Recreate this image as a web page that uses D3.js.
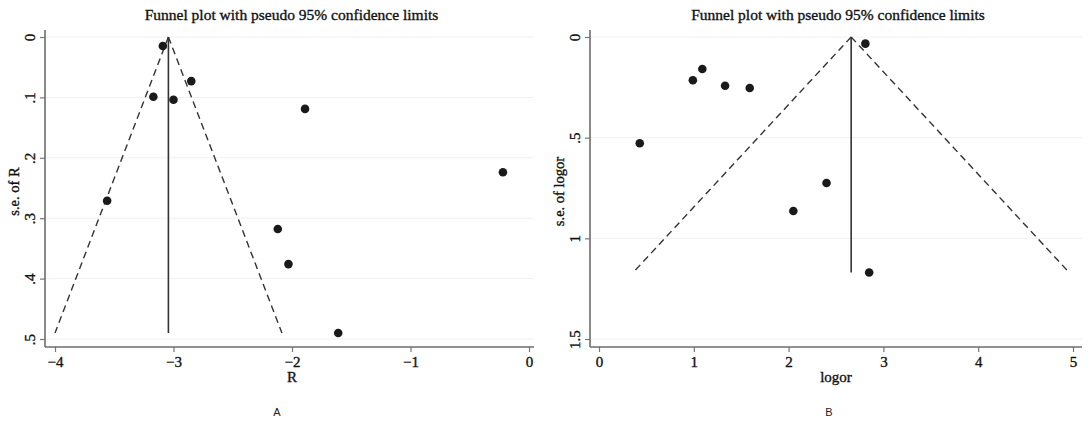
<!DOCTYPE html>
<html>
<head>
<meta charset="utf-8">
<script src="https://cdn.jsdelivr.net/npm/d3@7"></script>
<style>
  body { margin: 0; background: #fff; }
  svg { display: block; }
</style>
</head>
<body>
<svg id="chart" width="1090" height="421"></svg>
<script>
// Panel A: R vs s.e. of R
const rA = [-3.09, -3.17, -3.00, -2.85, -1.89, -0.22, -3.56, -2.12, -2.03, -1.61];
const seA = [0.015, 0.099, 0.104, 0.073, 0.119, 0.224, 0.271, 0.318, 0.376, 0.49];
const pooledA = -3.043;
const maxSeA = 0.49;
const limitsA = [-4.0, -2.085];
const xTicksA = [-4, -3, -2, -1, 0];
const xLabelsA = ["\u22124", "\u22123", "\u22122", "\u22121", "0"];
const yTicksA = [0, 0.1, 0.2, 0.3, 0.4, 0.5];
const yLabelsA = ["0", ".1", ".2", ".3", ".4", ".5"];

// Panel B: logor vs s.e. of logor
const logorB = [2.81, 1.09, 0.99, 1.33, 1.59, 0.43, 2.40, 2.05, 2.85];
const seB = [0.033, 0.159, 0.215, 0.242, 0.253, 0.528, 0.725, 0.864, 1.17];
const pooledB = 2.66;
const maxSeB = 1.17;
const limitsB = [0.36, 4.96];
const xTicksB = [0, 1, 2, 3, 4, 5];
const xLabelsB = ["0", "1", "2", "3", "4", "5"];
const yTicksB = [0, 0.5, 1, 1.5];
const yLabelsB = ["0", ".5", "1", "1.5"];

const title = "Funnel plot with pseudo 95% confidence limits";
const serif = "'Liberation Serif', 'Times New Roman', serif";

const svg = d3.select("#chart");

// thicken serif text a little, the scan looks heavy
function ink(sel, size) {
  sel.style("font-family", serif)
    .style("font-size", size)
    .attr("fill", "#111")
    .attr("stroke", "#111")
    .attr("stroke-width", 0.35);
}

function drawPanel(p) {
  const g = svg.append("g");

  const x = d3.scaleLinear().domain(p.xDomain).range(p.xRange);
  const y = d3.scaleLinear().domain(p.yDomain).range(p.yRange);

  // faint horizontal grid
  g.selectAll(".grid")
    .data(p.yTicks)
    .join("line")
      .attr("x1", p.left + 1)
      .attr("x2", p.right)
      .attr("y1", d => y(d))
      .attr("y2", d => y(d))
      .attr("stroke", "#f0f0f0")
      .attr("stroke-width", 1);

  // axes
  const xAxis = d3.axisBottom(x)
    .tickValues(p.xTicks)
    .tickFormat((d, i) => p.xLabels[i])
    .tickSizeInner(5)
    .tickSizeOuter(0)
    .tickPadding(4);

  const gx = g.append("g")
    .attr("transform", `translate(0,${p.bottom})`)
    .call(xAxis);
  gx.select(".domain").remove();
  gx.selectAll(".tick line").attr("stroke", "#777").attr("stroke-width", 1.2);
  gx.selectAll(".tick text").call(ink, "15px");

  const yAxis = d3.axisLeft(y)
    .tickValues(p.yTicks)
    .tickFormat((d, i) => p.yLabels[i])
    .tickSizeInner(5)
    .tickSizeOuter(0);

  const gy = g.append("g")
    .attr("transform", `translate(${p.left},0)`)
    .call(yAxis);
  gy.select(".domain").remove();
  gy.selectAll(".tick line").attr("stroke", "#777").attr("stroke-width", 1.2);
  gy.selectAll(".tick text")
    .attr("x", 0)
    .attr("dy", 0)
    .attr("transform", "translate(-10,0) rotate(-90)")
    .attr("text-anchor", "middle")
    .call(ink, "15px");

  g.append("line")
    .attr("x1", p.left).attr("x2", p.right)
    .attr("y1", p.bottom).attr("y2", p.bottom)
    .attr("stroke", "#6d6d6d").attr("stroke-width", 1.6);
  g.append("line")
    .attr("x1", p.left).attr("x2", p.left)
    .attr("y1", p.top).attr("y2", p.bottom)
    .attr("stroke", "#6d6d6d").attr("stroke-width", 1.6);

  // funnel: pseudo 95% limits
  const dashed = [
    [[p.pooled, 0], [p.limits[0], p.maxSe]],
    [[p.pooled, 0], [p.limits[1], p.maxSe]]
  ];
  const line = d3.line().x(d => x(d[0])).y(d => y(d[1]));
  g.selectAll(".limit")
    .data(dashed)
    .join("path")
      .attr("d", line)
      .attr("fill", "none")
      .attr("stroke", "#333")
      .attr("stroke-width", 1.4)
      .attr("stroke-dasharray", "7,4.5");

  g.append("path")
    .datum([[p.pooled, 0], [p.pooled, p.maxSe]])
    .attr("d", line)
    .attr("fill", "none")
    .attr("stroke", "#333")
    .attr("stroke-width", 1.6);

  // studies
  g.selectAll(".dot")
    .data(p.xs.map((v, i) => [v, p.ses[i]]))
    .join("circle")
      .attr("cx", d => x(d[0]))
      .attr("cy", d => y(d[1]))
      .attr("r", 4.3)
      .attr("fill", "#1a1a1a");

  // titles
  const cx = (p.left + p.right) / 2;
  g.append("text")
    .attr("x", cx + 2).attr("y", 20)
    .attr("text-anchor", "middle")
    .text(title)
    .call(ink, "15.5px");

  g.append("text")
    .attr("x", (x.range()[0] + x.range()[1]) / 2).attr("y", 382)
    .attr("text-anchor", "middle")
    .text(p.xTitle)
    .call(ink, "15px");

  g.append("text")
    .attr("transform", `translate(${p.left - 26},${(p.top + p.bottom) / 2 + 3}) rotate(-90)`)
    .attr("text-anchor", "middle")
    .text(p.yTitle)
    .call(ink, "14.5px");

  g.append("text")
    .attr("x", p.letterX).attr("y", 416)
    .attr("text-anchor", "middle")
    .style("font-family", "'Liberation Sans', Arial, sans-serif")
    .style("font-size", "11px")
    .attr("fill", "#222")
    .text(p.letter);
}

drawPanel({
  left: 45, right: 534, top: 30, bottom: 347,
  xDomain: [-4, 0], xRange: [55, 529],
  yDomain: [0, 0.5], yRange: [37, 339],
  xTicks: xTicksA, xLabels: xLabelsA,
  yTicks: yTicksA, yLabels: yLabelsA,
  xs: rA, ses: seA,
  pooled: pooledA, maxSe: maxSeA, limits: limitsA,
  xTitle: "R", yTitle: "s.e. of R", letter: "A", letterX: 277
});

drawPanel({
  left: 590, right: 1082, top: 30, bottom: 347,
  xDomain: [0, 5], xRange: [599, 1073],
  yDomain: [0, 1.5], yRange: [37, 339],
  xTicks: xTicksB, xLabels: xLabelsB,
  yTicks: yTicksB, yLabels: yLabelsB,
  xs: logorB, ses: seB,
  pooled: pooledB, maxSe: maxSeB, limits: limitsB,
  xTitle: "logor", yTitle: "s.e. of logor", letter: "B", letterX: 829
});
</script>
</body>
</html>
